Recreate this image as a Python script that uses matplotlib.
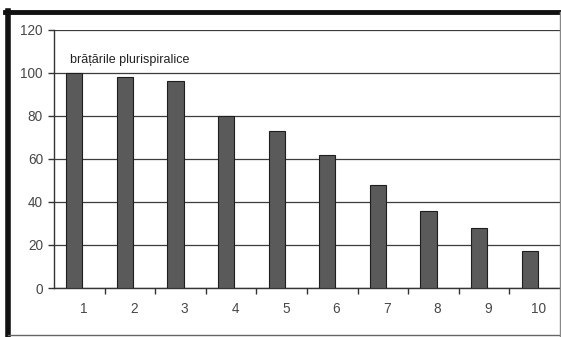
import matplotlib.pyplot as plt
from matplotlib.lines import Line2D
import numpy as np

plt.rcParams['font.family'] = ['Liberation Sans', 'DejaVu Sans']

# data
categories = [1, 2, 3, 4, 5, 6, 7, 8, 9, 10]
values = [100, 98, 96, 80, 73, 62, 48, 36, 28, 17]
label = 'brățările plurispiralice'

fig = plt.figure(figsize=(5.61, 3.37), dpi=100)
ax = fig.add_axes([0.0963, 0.1454, 0.902, 0.766])

x = np.array(categories, dtype=float)
ax.bar(x - 0.1, values, width=0.32, color='#5a5a5a', edgecolor='#1e1e1e',
       linewidth=0.8, zorder=3)

ax.set_xlim(0.5, 10.5)
ax.set_ylim(0, 120)
ax.set_yticks(range(0, 121, 20))
ax.yaxis.grid(True, color='#3c3c3c', linewidth=0.9, zorder=1)

# tick marks between categories, labels a little to the right of the bars
ax.set_xticks(np.arange(1.5, 10.5, 1.0))
ax.set_xticklabels([])
ax.set_xticks(x + 0.08, minor=True)
ax.set_xticklabels([str(c) for c in categories], minor=True)
ax.tick_params(axis='x', which='major', length=4, width=1, color='#333333')
ax.tick_params(axis='x', which='minor', length=0, pad=10, labelsize=9.8,
               labelcolor='#484848')
ax.tick_params(axis='y', length=4, width=1, color='#333333', labelsize=9.8,
               labelcolor='#484848', pad=4)

for s in ['top', 'right']:
    ax.spines[s].set_visible(False)
for s in ['left', 'bottom']:
    ax.spines[s].set_color('#333333')
    ax.spines[s].set_linewidth(1.0)

ax.text(0.82, 106, label, fontsize=9, color='#222222', ha='left', va='center')

# outer frame
fig.add_artist(Line2D([0.009, 1.0], [0.964, 0.964], transform=fig.transFigure,
                      color='#111111', linewidth=3.5))
fig.add_artist(Line2D([0.014, 0.014], [0.0, 0.966], transform=fig.transFigure,
                      color='#111111', linewidth=4.0))
fig.add_artist(Line2D([0.014, 1.0], [0.006, 0.006], transform=fig.transFigure,
                      color='#666666', linewidth=1.0))
fig.add_artist(Line2D([0.998, 0.998], [0.0, 0.964], transform=fig.transFigure,
                      color='#888888', linewidth=1.0))

fig.savefig('out.png', dpi=100)
